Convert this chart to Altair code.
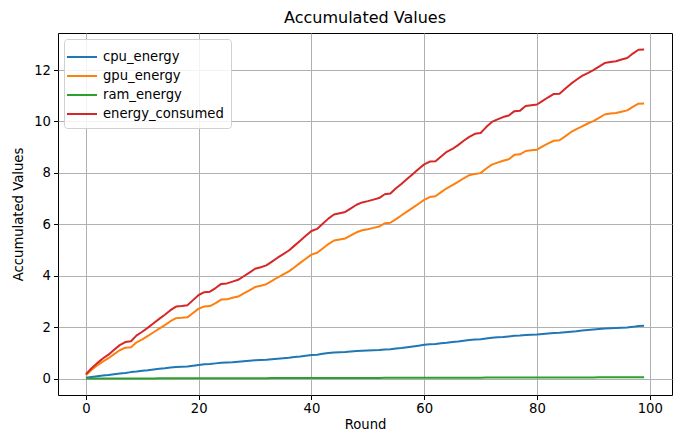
import altair as alt
import pandas as pd

rounds = list(range(100))

cpu_energy = [
    0.03, 0.06, 0.09, 0.12, 0.14, 0.17, 0.20, 0.22, 0.25, 0.27,
    0.30, 0.32, 0.35, 0.38, 0.40, 0.43, 0.45, 0.46, 0.47, 0.50,
    0.53, 0.56, 0.57, 0.59, 0.61, 0.62, 0.63, 0.65, 0.67, 0.69,
    0.71, 0.72, 0.73, 0.75, 0.77, 0.79, 0.81, 0.84, 0.86, 0.89,
    0.92, 0.93, 0.96, 0.99, 1.01, 1.02, 1.03, 1.05, 1.07, 1.08,
    1.09, 1.10, 1.11, 1.13, 1.14, 1.17, 1.19, 1.22, 1.25, 1.28,
    1.31, 1.33, 1.34, 1.37, 1.39, 1.42, 1.44, 1.47, 1.50, 1.52,
    1.53, 1.56, 1.59, 1.61, 1.62, 1.64, 1.66, 1.67, 1.69, 1.70,
    1.71, 1.73, 1.75, 1.77, 1.78, 1.80, 1.82, 1.84, 1.87, 1.89,
    1.91, 1.93, 1.95, 1.96, 1.97, 1.98, 1.99, 2.01, 2.04, 2.05,
]

gpu_energy = [
    0.13, 0.34, 0.51, 0.66, 0.79, 0.95, 1.10, 1.20, 1.22, 1.41,
    1.52, 1.66, 1.80, 1.94, 2.08, 2.23, 2.35, 2.36, 2.38, 2.55,
    2.72, 2.80, 2.82, 2.93, 3.07, 3.08, 3.14, 3.19, 3.31, 3.43,
    3.56, 3.61, 3.67, 3.80, 3.93, 4.05, 4.17, 4.33, 4.50, 4.66,
    4.82, 4.89, 5.06, 5.23, 5.37, 5.41, 5.45, 5.57, 5.69, 5.77,
    5.81, 5.86, 5.91, 6.04, 6.06, 6.20, 6.35, 6.50, 6.65, 6.80,
    6.95, 7.06, 7.09, 7.25, 7.40, 7.52, 7.65, 7.79, 7.91, 7.96,
    7.99, 8.17, 8.32, 8.40, 8.47, 8.53, 8.70, 8.72, 8.85, 8.88,
    8.90, 9.03, 9.15, 9.25, 9.27, 9.42, 9.58, 9.70, 9.81, 9.92,
    10.01, 10.14, 10.27, 10.31, 10.33, 10.38, 10.43, 10.57, 10.69, 10.70,
]

ram_energy = [
    0.000, 0.001, 0.001, 0.002, 0.002, 0.003, 0.003, 0.004, 0.004, 0.005,
    0.005, 0.006, 0.006, 0.007, 0.007, 0.008, 0.008, 0.009, 0.009, 0.010,
    0.010, 0.011, 0.011, 0.012, 0.012, 0.013, 0.013, 0.014, 0.014, 0.015,
    0.015, 0.016, 0.016, 0.017, 0.017, 0.018, 0.018, 0.019, 0.019, 0.020,
    0.020, 0.021, 0.021, 0.022, 0.022, 0.023, 0.023, 0.024, 0.024, 0.025,
    0.025, 0.026, 0.026, 0.027, 0.027, 0.028, 0.028, 0.029, 0.029, 0.030,
    0.030, 0.031, 0.031, 0.032, 0.032, 0.033, 0.033, 0.034, 0.034, 0.035,
    0.035, 0.036, 0.036, 0.037, 0.037, 0.038, 0.038, 0.039, 0.039, 0.040,
    0.040, 0.041, 0.041, 0.042, 0.042, 0.043, 0.043, 0.044, 0.044, 0.045,
    0.045, 0.046, 0.046, 0.047, 0.047, 0.048, 0.048, 0.049, 0.049, 0.050,
]

energy_consumed = [
    0.17, 0.40, 0.60, 0.78, 0.93, 1.12, 1.30, 1.42, 1.45, 1.68,
    1.82, 1.98, 2.15, 2.32, 2.48, 2.66, 2.80, 2.82, 2.85, 3.05,
    3.25, 3.36, 3.38, 3.52, 3.68, 3.70, 3.77, 3.84, 3.98, 4.12,
    4.27, 4.33, 4.40, 4.55, 4.70, 4.84, 4.98, 5.17, 5.36, 5.55,
    5.74, 5.82, 6.02, 6.22, 6.38, 6.43, 6.48, 6.62, 6.76, 6.85,
    6.90, 6.96, 7.02, 7.17, 7.20, 7.40, 7.58, 7.77, 7.96, 8.15,
    8.33, 8.44, 8.45, 8.64, 8.82, 8.93, 9.08, 9.25, 9.40, 9.52,
    9.55, 9.78, 9.98, 10.08, 10.17, 10.23, 10.40, 10.42, 10.60, 10.63,
    10.66, 10.80, 10.94, 11.07, 11.08, 11.27, 11.46, 11.62, 11.77, 11.88,
    12.00, 12.13, 12.27, 12.31, 12.34, 12.41, 12.47, 12.64, 12.79, 12.80,
]

series_names = ["cpu_energy", "gpu_energy", "ram_energy", "energy_consumed"]
series_colors = ["#1f77b4", "#ff7f0e", "#2ca02c", "#d62728"]
x_ticks = [0, 20, 40, 60, 80, 100]
y_ticks = [0, 2, 4, 6, 8, 10, 12]

rows = []
for idx, (name, vals) in enumerate(zip(series_names, [cpu_energy, gpu_energy, ram_energy, energy_consumed])):
    for r, v in zip(rounds, vals):
        rows.append({"Round": r, "value": v, "series": name, "k": idx})
df = pd.DataFrame(rows)

FONT = "DejaVu Sans"

chart = (
    alt.Chart(df)
    .mark_line(strokeWidth=2, strokeJoin="round")
    .encode(
        x=alt.X(
            "Round:Q",
            scale=alt.Scale(domain=[-4.95, 103.95], nice=False, zero=False),
            axis=alt.Axis(values=x_ticks, title="Round", format="d"),
        ),
        y=alt.Y(
            "value:Q",
            scale=alt.Scale(domain=[-0.64, 13.44], nice=False, zero=False),
            axis=alt.Axis(values=y_ticks, title="Accumulated Values", format="d"),
        ),
        color=alt.Color(
            "series:N",
            sort=series_names,
            scale=alt.Scale(domain=series_names, range=series_colors),
            legend=alt.Legend(
                title=None,
                orient="top-left",
                offset=6,
                padding=7,
                fillColor="rgba(255,255,255,0.85)",
                strokeColor="#d0d0d0",
                cornerRadius=3,
                symbolType="M-1.5,0L1.5,0",
                symbolSize=400,
                symbolStrokeWidth=2,
                labelFont=FONT,
                labelFontSize=13.2,
                labelColor="black",
                labelOffset=10,
                rowPadding=1,
            ),
        ),
        detail="k:O",
    )
    .properties(
        width=614,
        height=362,
        title=alt.TitleParams(
            "Accumulated Values",
            font=FONT,
            fontSize=16,
            fontWeight="normal",
            color="black",
            anchor="middle",
            offset=7,
        ),
        padding={"left": 50, "top": 25, "right": 1, "bottom": 38},
        autosize=alt.AutoSizeParams(type="none"),
    )
    .configure_view(stroke="black", strokeWidth=1)
    .configure_axis(
        domain=False,
        grid=True,
        gridColor="#b0b0b0",
        gridWidth=1,
        gridOpacity=1,
        tickColor="black",
        tickSize=4.5,
        tickWidth=1,
        labelFont=FONT,
        labelFontSize=13.2,
        labelColor="black",
        labelPadding=3,
        titleFont=FONT,
        titleFontSize=13.2,
        titleFontWeight="normal",
        titleColor="black",
    )
    .configure_axisY(titlePadding=8)
    .configure_axisX(titlePadding=4)
)

chart.save("out.html", embed_options={"renderer": "svg", "actions": False})
